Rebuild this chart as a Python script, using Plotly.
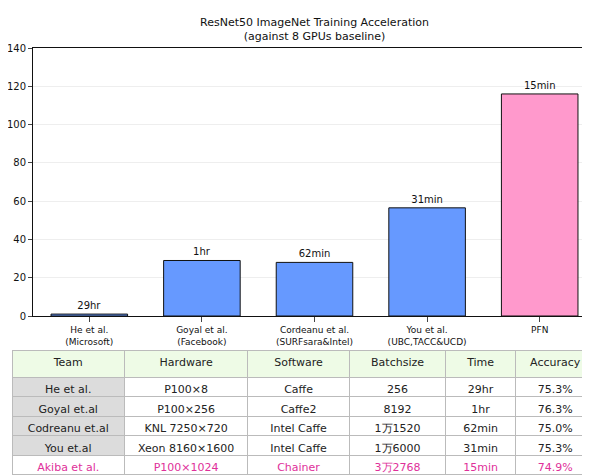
import plotly.graph_objects as go

TEAMS = ["He et al.<br>(Microsoft)", "Goyal et al.<br>(Facebook)", "Cordeanu et al.<br>(SURFsara&Intel)",
         "You et al.<br>(UBC,TACC&UCD)", "PFN"]
SPEEDUP = [1, 29, 28, 56.5, 116]
BAR_LABELS = ["29hr", "1hr", "62min", "31min", "15min"]
BAR_COLORS = ["#6699ff", "#6699ff", "#6699ff", "#6699ff", "#ff99cc"]

HEADER = ["Team", "Hardware", "Software", "Batchsize", "Time", "Accuracy"]
COL_TEAM = ["He et al.", "Goyal et.al", "Codreanu et.al", "You et.al", "Akiba et al."]
COL_HW = ["P100×8", "P100×256", "KNL 7250×720", "Xeon 8160×1600", "P100×1024"]
COL_SW = ["Caffe", "Caffe2", "Intel Caffe", "Intel Caffe", "Chainer"]
COL_BATCH = ["256", "8192", "1万1520", "1万6000", "3万2768"]
COL_TIME = ["29hr", "1hr", "62min", "31min", "15min"]
COL_ACC = ["75.3%", "76.3%", "75.0%", "75.3%", "74.9%"]

W, H = 590, 476
FONT = "DejaVu Sans, Verdana, sans-serif"
PINK = "#e0309a"

fig = go.Figure()
fig.add_trace(go.Bar(
    x=TEAMS, y=SPEEDUP, text=BAR_LABELS, textposition="outside",
    marker=dict(color=BAR_COLORS, line=dict(color="#111", width=1)),
    textfont=dict(size=10, color="#111"), width=0.68, cliponaxis=False,
))

text_colors = ["#222"] * 4 + [PINK]
fig.add_trace(go.Table(
    domain=dict(x=[4 / W, 587 / W], y=[1 - 470 / H, 1 - 342 / H]),
    columnwidth=[113, 124, 102, 97, 70, 80],
    header=dict(values=HEADER, fill_color="#eefbe6", line_color="#bbbbbb",
                font=dict(size=11, color="#222", family=FONT), height=27, align="center"),
    cells=dict(values=[COL_TEAM, COL_HW, COL_SW, COL_BATCH, COL_TIME, COL_ACC],
               fill_color=[["#dcdcdc"] * 4 + ["white"]] + [["white"] * 5] * 5,
               line_color="#bbbbbb",
               font=dict(size=11, color=[text_colors] * 6, family=FONT),
               height=19.5, align="center"),
))

fig.add_annotation(
    text="ResNet50 ImageNet Training Acceleration<br>(against 8 GPUs baseline)",
    xref="paper", yref="paper", x=0.52, y=1 - 6 / H, xanchor="center", yanchor="top",
    showarrow=False, font=dict(size=11, color="#111"),
)

fig.update_layout(
    width=W, height=H, margin=dict(l=0, r=0, t=0, b=0),
    paper_bgcolor="white", plot_bgcolor="white", showlegend=False,
    font=dict(family=FONT, size=10, color="#111"),
    xaxis=dict(domain=[25 / W, 588 / W], showline=True, linecolor="#111", mirror=True,
               ticks="outside", tickfont=dict(size=9), automargin=False),
    yaxis=dict(domain=[1 - 308 / H, 1 - 40 / H], range=[0, 140], dtick=20,
               showline=True, linecolor="#111", mirror=True, ticks="outside", ticklen=4,
               gridcolor="#eeeeee", zeroline=False, tickfont=dict(size=10), automargin=False),
)
fig.write_html("out.html")
